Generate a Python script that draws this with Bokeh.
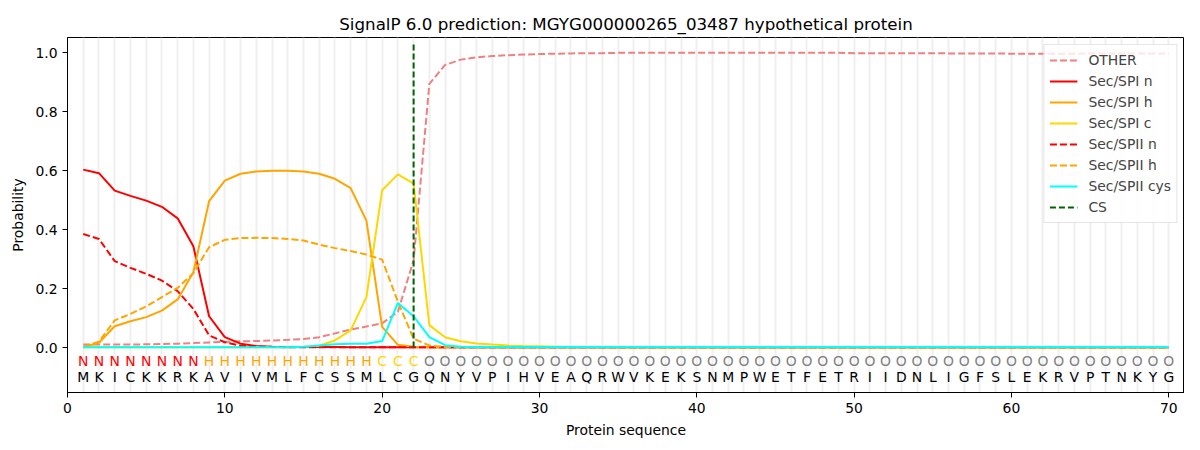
from bokeh.plotting import figure
from bokeh.models import Range1d, FixedTicker, PrintfTickFormatter
from bokeh.core.properties import value
from bokeh.embed import file_html
from bokeh.resources import INLINE

title = "SignalP 6.0 prediction: MGYG000000265_03487 hypothetical protein"
sequence = list("MKICKKRKAVIVMLFCSSMLCGQNYVPIHVEAQRWVKEKSNMPWETFETRIIDNLIGFSLEKRVPTNKYG")
region_labels = list("NNNNNNNN" + "HHHHHHHHHHH" + "CCC" + "O" * 48)
positions = list(range(1, len(sequence) + 1))

other = [0.010, 0.010, 0.010, 0.010, 0.011, 0.012, 0.013, 0.015, 0.017, 0.019,
         0.021, 0.022, 0.024, 0.026, 0.029, 0.035, 0.048, 0.061, 0.071, 0.082,
         0.121, 0.296, 0.894, 0.958, 0.976, 0.984, 0.988, 0.991, 0.993, 0.995,
         0.996, 0.997, 0.998, 0.998, 0.999, 0.999, 0.999, 0.999, 0.999, 0.999,
         0.999, 0.999, 0.999, 0.999, 0.999, 0.999, 0.999, 0.999, 0.999, 0.998,
         0.998, 0.998, 0.998, 0.998, 0.998, 0.997, 0.997, 0.997, 0.997, 0.996,
         0.996, 0.996, 0.996, 0.996, 0.997, 0.997, 0.997, 0.997, 0.997, 0.997]
spi_n = [0.603, 0.591, 0.532, 0.514, 0.498, 0.477, 0.438, 0.343, 0.106, 0.035,
         0.013, 0.005, 0.003, 0.002, 0.002, 0.002, 0.002, 0.001, 0.001, 0.001,
         0.001, 0.001] + [0.0005] * 48
spi_h = [0.001, 0.016, 0.072, 0.089, 0.103, 0.125, 0.163, 0.255, 0.496, 0.566,
         0.589, 0.597, 0.599, 0.599, 0.597, 0.589, 0.572, 0.540, 0.430, 0.070,
         0.009, 0.003, 0.001] + [0.0005] * 47
spi_c = [0.0005] * 14 + [0.002, 0.006, 0.024, 0.058, 0.171, 0.533, 0.587, 0.556,
         0.076, 0.035, 0.021, 0.014, 0.010, 0.007, 0.005, 0.004, 0.003, 0.002,
         0.002, 0.002, 0.001] + [0.001] * 35
spii_n = [0.385, 0.368, 0.293, 0.270, 0.250, 0.227, 0.191, 0.131, 0.041, 0.018,
          0.006, 0.003, 0.002, 0.001] + [0.0005] * 56
spii_h = [0.002, 0.020, 0.092, 0.114, 0.139, 0.171, 0.202, 0.252, 0.340, 0.365,
          0.371, 0.372, 0.371, 0.368, 0.363, 0.349, 0.337, 0.327, 0.315, 0.298,
          0.155, 0.030, 0.007, 0.002] + [0.001] * 46
spii_cys = [0.001] * 14 + [0.003, 0.007, 0.011, 0.013, 0.013, 0.022, 0.151, 0.106,
            0.035, 0.008, 0.003] + [0.002] * 45
cs_position = 22
cs_top = 1.037

y_ticks = [0.0, 0.2, 0.4, 0.6, 0.8, 1.0]
x_ticks = [0, 10, 20, 30, 40, 50, 60, 70]

FONT = "DejaVu Sans"

p = figure(width=1184, height=440, output_backend="svg", toolbar_location=None,
           x_range=Range1d(0, 71), y_range=Range1d(-0.1525, 1.051),
           min_border_left=67, min_border_right=0, min_border_top=37,
           min_border_bottom=46)
p.background_fill_color = "white"
p.border_fill_color = "white"
p.outline_line_color = "black"
p.outline_line_width = 1

p.title.text = title
p.title.align = "center"
p.title.text_font = FONT
p.title.text_font_size = "16.7px"
p.title.text_font_style = "normal"
p.title.text_color = "black"
p.title.standoff = 7

p.xgrid.ticker = FixedTicker(ticks=positions)
p.xgrid.grid_line_color = "#efefef"
p.xgrid.grid_line_width = 2
p.ygrid.visible = False

for ax in (p.xaxis[0], p.yaxis[0]):
    ax.axis_line_color = "black"
    ax.major_tick_line_color = "black"
    ax.major_tick_in = 0
    ax.major_tick_out = 5
    ax.minor_tick_line_color = None
    ax.major_label_text_font = FONT
    ax.major_label_text_font_size = "13.9px"
    ax.major_label_text_color = "black"
    ax.axis_label_text_font = FONT
    ax.axis_label_text_font_size = "13.9px"
    ax.axis_label_text_font_style = "normal"
    ax.axis_label_text_color = "black"
    ax.major_label_standoff = 5
    ax.axis_label_standoff = 6

p.xaxis.ticker = FixedTicker(ticks=x_ticks)
p.xaxis.formatter = PrintfTickFormatter(format="%d")
p.yaxis.ticker = FixedTicker(ticks=y_ticks)
p.yaxis.formatter = PrintfTickFormatter(format="%.1f")
p.xaxis.axis_label = "Protein sequence"
p.yaxis.axis_label = "Probability"

dash = "7 3"
p.line(positions, other, line_color="#F08080", line_width=2, line_dash=dash, legend_label="OTHER")
p.line(positions, spi_n, line_color="#FF0000", line_width=2, legend_label="Sec/SPI n")
p.line(positions, spi_h, line_color="#FFA500", line_width=2, legend_label="Sec/SPI h")
p.line(positions, spi_c, line_color="#FFD700", line_width=2, legend_label="Sec/SPI c")
p.line(positions, spii_n, line_color="#FF0000", line_width=2, line_dash=dash, legend_label="Sec/SPII n")
p.line(positions, spii_h, line_color="#FFA500", line_width=2, line_dash=dash, legend_label="Sec/SPII h")
p.line(positions, spii_cys, line_color="#00FFFF", line_width=2, legend_label="Sec/SPII cys")
p.segment(x0=[cs_position], y0=[0], x1=[cs_position], y1=[cs_top],
          line_color="#006400", line_width=2, line_dash="6 3", legend_label="CS")

label_color_map = {"N": "#FF0000", "H": "#FFA500", "C": "#FFD700", "O": "#808080"}
label_colors = [label_color_map[c] for c in region_labels]
p.text(x=positions, y=[-0.045] * len(positions), text=region_labels, text_color=label_colors,
       text_align="center", text_baseline="middle", text_font=value(FONT),
       text_font_size="13.9px")
p.text(x=positions, y=[-0.10] * len(positions), text=sequence, text_color="black",
       text_align="center", text_baseline="middle", text_font=value(FONT),
       text_font_size="13.9px")

lg = p.legend[0]
lg.location = "top_right"
lg.margin = 7
lg.padding = 5
lg.spacing = 1
lg.glyph_width = 28
lg.glyph_height = 20
lg.label_height = 20
lg.label_standoff = 11
lg.label_text_font = FONT
lg.label_text_font_size = "13.9px"
lg.border_line_color = "#cccccc"
lg.border_line_width = 1
lg.background_fill_alpha = 0.8

open("out.html", "w").write(file_html(p, INLINE))
